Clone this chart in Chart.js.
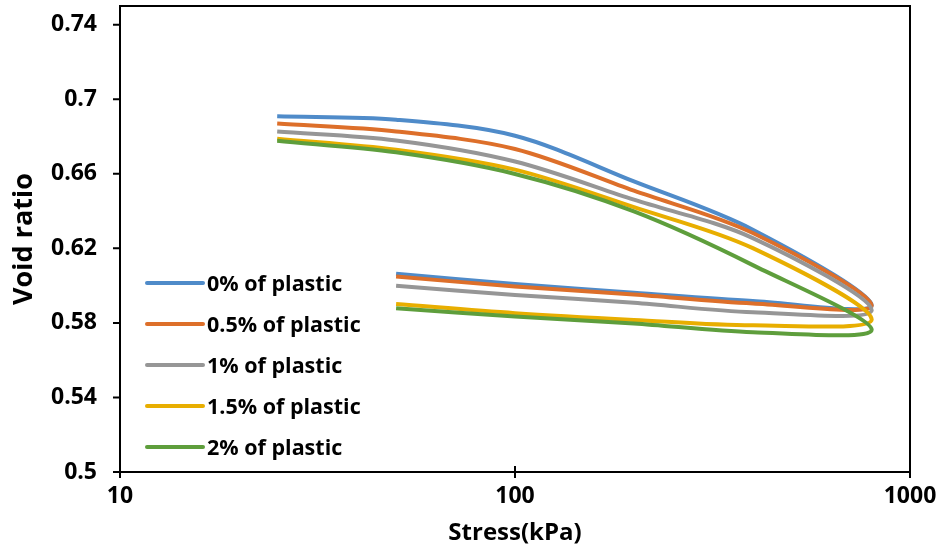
<!DOCTYPE html>
<html>
<head>
<meta charset="utf-8">
<script src="https://cdn.jsdelivr.net/npm/chart.js@4.4.0/dist/chart.umd.min.js"></script>
<style>
  html, body { margin: 0; padding: 0; background: #fff; }
  #wrap { position: relative; width: 941px; height: 550px; }
  #legend { position: absolute; left: 145px; top: 262px; font-family: "Open Sans", Lato, sans-serif; font-weight: bold; font-size: 21.5px; color: #000; }
  .item { display: flex; align-items: center; height: 41px; }
  .swatch { width: 60px; height: 4px; margin-right: 2px; border-radius: 2px; }
</style>
</head>
<body>
<div id="wrap">
  <canvas id="c" width="941" height="550"></canvas>
  <div id="legend"></div>
</div>
<script>
// Stress path (kPa): loading then unloading
const stress = [25, 50, 100, 200, 400, 800, 400, 200, 100, 50];
const seriesNames = ["0% of plastic", "0.5% of plastic", "1% of plastic", "1.5% of plastic", "2% of plastic"];
const void0   = [0.6908, 0.6890, 0.6804, 0.6559, 0.6300, 0.5895, 0.5918, 0.5962, 0.6008, 0.6063];
const void05  = [0.6869, 0.6827, 0.6733, 0.6509, 0.6282, 0.5893, 0.5904, 0.5952, 0.5995, 0.6049];
const void1   = [0.6827, 0.6779, 0.6666, 0.6461, 0.6255, 0.5868, 0.5857, 0.5908, 0.5950, 0.5999];
const void15  = [0.6788, 0.6729, 0.6622, 0.6421, 0.6201, 0.5818, 0.5787, 0.5816, 0.5852, 0.5901];
const void2   = [0.6777, 0.6715, 0.6599, 0.6398, 0.6110, 0.5763, 0.5750, 0.5797, 0.5834, 0.5879];
const xTicks = [10, 100, 1000];
const yTicks = [0.5, 0.54, 0.58, 0.62, 0.66, 0.7, 0.74];
const colors = ["#4F8BC9", "#DD6F2A", "#969696", "#E8AE00", "#5E9E3C"];

const allSeries = [void0, void05, void1, void15, void2];
const datasets = allSeries.map((vals, i) => ({
  label: seriesNames[i],
  data: stress.map((s, k) => ({ x: s, y: vals[k] })),
  borderColor: colors[i],
  backgroundColor: colors[i],
  borderWidth: 4,
  pointRadius: 0,
  showLine: true,
  tension: 0.32,
  fill: false,
  order: allSeries.length - i
}));

const font = { family: "'Open Sans', Lato, sans-serif", weight: "bold" };

const framePlugin = {
  id: 'frame',
  afterDraw(chart) {
    const ctx = chart.ctx, a = chart.chartArea;
    const xs = chart.scales.x, ys = chart.scales.y;
    ctx.save();
    ctx.strokeStyle = '#000';
    ctx.lineWidth = 2;
    ctx.strokeRect(a.left, a.top, a.right - a.left, a.bottom - a.top);
    ctx.beginPath();
    xTicks.forEach(v => { const px = xs.getPixelForValue(v); ctx.moveTo(px, a.bottom - 6); ctx.lineTo(px, a.bottom + 6); });
    yTicks.forEach(v => { const py = ys.getPixelForValue(v); ctx.moveTo(a.left - 7, py); ctx.lineTo(a.left, py); });
    ctx.stroke();
    ctx.restore();
  }
};

new Chart(document.getElementById('c'), {
  type: 'scatter',
  data: { datasets },
  options: {
    responsive: false,
    animation: false,
    layout: { padding: { left: 0, right: 31, top: 6, bottom: 0 } },
    plugins: { legend: { display: false }, tooltip: { enabled: false } },
    scales: {
      x: {
        type: 'logarithmic', min: 10, max: 1000,
        afterBuildTicks: s => { s.ticks = xTicks.map(v => ({ value: v })); },
        afterFit: s => { s.height = 78; s.paddingLeft = 0; s.paddingRight = 0; },
        ticks: { color: '#000', font: { ...font, size: 23 }, padding: 3, maxRotation: 0,
                 callback: v => String(v) },
        grid: { display: false },
        border: { display: false },
        title: { display: true, text: 'Stress(kPa)', color: '#000', font: { ...font, size: 24 }, padding: { top: 0, bottom: 2 } }
      },
      y: {
        min: 0.5, max: 0.75,
        afterBuildTicks: s => { s.ticks = yTicks.map(v => ({ value: v })); },
        afterFit: s => { s.width = 120; s.paddingTop = 0; s.paddingBottom = 0; },
        ticks: { color: '#000', font: { ...font, size: 23 }, padding: 15,
                 callback: v => String(parseFloat(Number(v).toFixed(2))) },
        grid: { display: false },
        border: { display: false },
        title: { display: true, text: 'Void ratio', color: '#000', font: { ...font, size: 27 }, padding: { top: 8, bottom: 0 } }
      }
    }
  },
  plugins: [framePlugin]
});

const leg = document.getElementById('legend');
seriesNames.forEach((n, i) => {
  const d = document.createElement('div'); d.className = 'item';
  const sw = document.createElement('span'); sw.className = 'swatch'; sw.style.background = colors[i];
  const t = document.createElement('span'); t.textContent = n;
  d.appendChild(sw); d.appendChild(t); leg.appendChild(d);
});
</script>
</body>
</html>
